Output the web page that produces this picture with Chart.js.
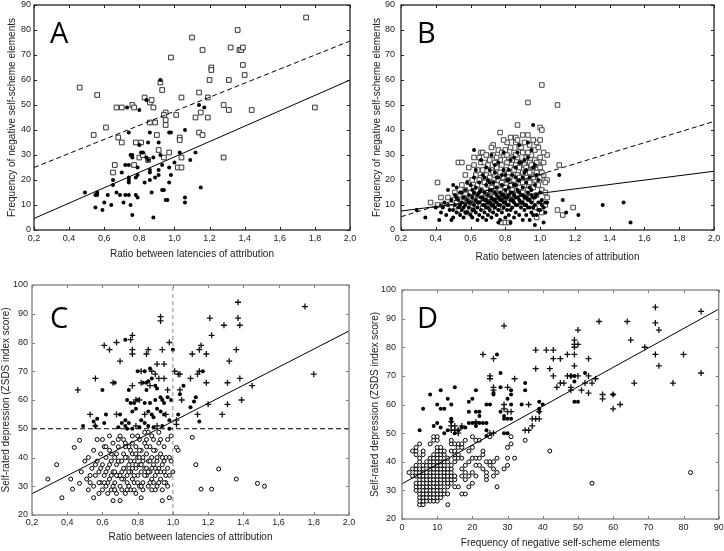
<!DOCTYPE html>
<html><head><meta charset="utf-8">
<script src="https://cdn.jsdelivr.net/npm/chart.js@4.4.1/dist/chart.umd.min.js"></script>
<style>
html,body{margin:0;padding:0;background:#fff;}
body{width:724px;height:551px;position:relative;overflow:hidden;}
canvas{position:absolute;}
</style></head><body>
<canvas id="cA" width="362" height="265" style="left:0;top:0"></canvas>
<canvas id="cB" width="362" height="265" style="left:362px;top:0"></canvas>
<canvas id="cC" width="362" height="286" style="left:0;top:265px"></canvas>
<canvas id="cD" width="362" height="286" style="left:362px;top:265px"></canvas>
<script>
// ---------- Panel A ----------
const aSquares = [[1.75,85],[1.36,80],[1.10,77],[1.16,72],[1.32,73],[1.37,72],[1.38,72],[1.39,73],[0.98,69],[1.39,66],[1.21,65],[1.21,64],[1.40,62],[1.20,60],[1.31,60],[0.92,59],[0.93,56],[1.14,55],[0.46,57],[0.56,54],[1.04,53],[1.19,53],[0.83,53],[0.86,51],[0.87,52],[0.67,49],[0.70,49],[0.76,50],[0.77,49],[0.88,49],[1.28,50],[1.31,48],[1.44,48],[1.80,49],[0.95,47],[0.94,46],[1.01,46],[1.15,47],[1.12,45],[1.19,45],[0.95,44],[0.95,42],[0.86,43],[0.89,43],[0.61,41],[0.54,38],[0.90,38],[1.14,39],[1.16,38],[0.68,37],[0.70,35],[0.78,35],[0.81,35],[1.03,37],[1.03,36],[0.91,32],[0.97,31],[0.80,29],[0.82,30],[0.94,29],[1.04,29],[0.85,28],[1.28,29],[0.66,26],[0.77,26],[1.02,25],[1.04,25],[0.65,23]];
const aDots = [[0.92,60],[0.84,52],[0.73,49],[0.80,48],[1.14,50],[1.17,49],[0.98,39],[0.97,39],[0.86,39],[0.74,39],[1.06,40],[0.80,34],[0.85,35],[0.91,35],[0.81,31],[0.82,31],[0.76,30],[0.75,30],[0.76,29],[0.92,30],[1.03,31],[1.12,31],[0.84,29],[0.85,28],[0.88,29],[0.72,26],[0.74,26],[0.79,25],[0.93,26],[1.00,27],[1.09,28],[0.97,25],[0.70,23],[0.74,21],[0.78,21],[0.83,19],[0.86,23],[0.86,24],[0.91,24],[0.91,22],[0.89,21],[0.98,22],[0.65,20],[0.65,18],[0.74,20],[0.74,19],[0.79,22],[0.86,20],[0.97,19],[0.49,15],[0.55,14],[0.56,14],[0.56,15],[0.62,14],[0.67,15],[0.69,14],[0.72,14],[0.74,14],[0.78,14],[0.79,13],[0.87,15],[0.93,16],[0.94,16],[0.95,12],[0.96,12],[1.15,17],[0.60,11],[0.71,11],[1.06,13],[1.06,11],[0.55,9],[0.59,8],[0.64,10],[0.75,10],[0.76,6],[0.88,5]];
const aSolidLine = [[0.2,4.6],[2.0,60]];
const aDashedLine = [[0.2,25],[2.0,75.6]];

// ---------- Panel B ----------
const bSquares = [[1.01,58],[0.93,51],[1.10,50],[0.87,42],[1.00,41],[1.01,40],[0.77,39],[0.90,38],[0.93,38],[0.86,37],[0.73,34],[0.81,35],[0.98,35],[1.00,36],[0.66,31],[0.53,27],[0.55,27],[0.62,26],[0.41,19],[1.11,26],[0.37,11],[0.43,13],[0.44,10],[0.41,10],[1.10,8],[1.13,6],[1.19,9],[0.78,3],[0.80,3],[0.82,3],[1.04,30],[1.02,31],[1.02,20],[1.04,20],[0.98,5],
[0.47,13],[0.49,9],[0.50,12],[0.51,15],[0.52,11],[0.53,8],[0.54,14],[0.55,10],[0.56,13],[0.57,16],[0.58,7],[0.58,12],[0.59,19],[0.60,11],[0.60,15],[0.61,20],[0.61,9],[0.62,13],[0.62,17],[0.63,22],[0.63,10],[0.64,14],[0.64,18],[0.65,29],[0.65,12],[0.66,27],[0.66,16],[0.66,21],[0.67,9],[0.67,24],[0.68,27],[0.68,13],[0.68,19],[0.69,15],[0.69,22],[0.70,26],[0.70,11],[0.70,18],[0.71,14],[0.71,28],[0.71,21],[0.72,8],[0.72,17],[0.72,24],[0.73,12],[0.73,19],[0.73,30],[0.74,15],[0.74,22],[0.74,27],[0.75,10],[0.75,18],[0.75,25],[0.76,13],[0.76,20],[0.76,32],[0.77,16],[0.77,23],[0.77,28],[0.78,9],[0.78,19],[0.78,26],[0.79,14],[0.79,21],[0.79,30],[0.80,17],[0.80,24],[0.80,32],[0.81,11],[0.81,20],[0.81,27],[0.82,15],[0.82,23],[0.82,29],[0.83,18],[0.83,25],[0.83,33],[0.84,12],[0.84,21],[0.84,28],[0.85,16],[0.85,24],[0.85,31],[0.86,19],[0.86,26],[0.86,35],[0.87,14],[0.87,22],[0.87,29],[0.88,17],[0.88,25],[0.88,33],[0.89,11],[0.89,20],[0.89,27],[0.90,15],[0.90,23],[0.90,31],[0.91,18],[0.91,26],[0.92,13],[0.92,21],[0.92,29],[0.93,16],[0.93,24],[0.94,19],[0.94,27],[0.94,34],[0.95,12],[0.95,22],[0.95,30],[0.96,17],[0.96,25],[0.97,9],[0.97,20],[0.97,28],[0.98,14],[0.98,23],[0.99,18],[0.99,26],[1.00,21],[1.00,29],[1.01,7],[1.01,16],[1.02,22],[1.03,10],[1.03,19],[1.04,13],
[0.55,18],[0.57,22],[0.59,25],[0.60,8],[0.62,29],[0.64,24],[0.65,20],[0.67,31],[0.69,30],[0.70,14],[0.72,33],[0.73,23],[0.75,29],[0.76,9],[0.78,31],[0.79,36],[0.80,13],[0.81,30],[0.83,37],[0.84,16],[0.85,20],[0.86,30],[0.87,36],[0.88,21],[0.89,33],[0.90,19],[0.91,35],[0.92,25],[0.93,31],[0.94,23],[0.95,26],[0.96,36],[0.97,32],[0.98,27],[0.99,33],[1.00,25],[1.01,23],[1.02,27],[1.03,15],[0.96,21]];
const bDots = [[0.29,8],[0.34,5],[0.42,4],[0.49,4],[1.52,3],[1.48,11],[1.36,10],[1.22,6],[1.15,7],[1.13,12],[1.11,22],[0.96,42],[0.62,32],[0.97,2],[1.02,3],[1.03,11],[1.00,11],
[0.40,9],[0.43,7],[0.45,11],[0.46,6],[0.47,16],[0.48,8],[0.49,12],[0.50,18],[0.50,5],[0.51,10],[0.51,14],[0.52,7],[0.52,17],[0.53,9],[0.53,12],[0.54,6],[0.54,15],[0.55,11],[0.55,8],[0.56,13],[0.56,5],[0.57,10],[0.57,16],[0.58,7],[0.58,12],[0.59,9],[0.59,14],[0.60,6],[0.60,11],[0.60,18],[0.61,8],[0.61,13],[0.61,5],[0.62,10],[0.62,15],[0.62,21],[0.63,7],[0.63,12],[0.63,17],[0.64,9],[0.64,14],[0.64,4],[0.65,11],[0.65,6],[0.65,19],[0.66,8],[0.66,13],[0.66,16],[0.67,10],[0.67,5],[0.67,22],[0.68,12],[0.68,7],[0.68,15],[0.69,9],[0.69,18],[0.69,4],[0.70,11],[0.70,14],[0.70,6],[0.71,8],[0.71,16],[0.71,24],[0.72,10],[0.72,13],[0.72,5],[0.73,12],[0.73,19],[0.73,7],[0.74,9],[0.74,15],[0.74,26],[0.75,11],[0.75,6],[0.75,17],[0.76,8],[0.76,13],[0.76,21],[0.77,10],[0.77,4],[0.77,15],[0.78,12],[0.78,7],[0.78,18],[0.79,9],[0.79,14],[0.79,24],[0.80,11],[0.80,5],[0.80,16],[0.81,8],[0.81,13],[0.81,20],[0.82,10],[0.82,6],[0.82,17],[0.83,12],[0.83,28],[0.83,8],[0.84,15],[0.84,9],[0.84,22],[0.85,11],[0.85,5],[0.85,18],[0.86,13],[0.86,7],[0.86,25],[0.87,10],[0.87,16],[0.87,31],[0.88,12],[0.88,6],[0.88,20],[0.89,9],[0.89,14],[0.89,27],[0.90,11],[0.90,4],[0.90,17],[0.91,8],[0.91,13],[0.91,23],[0.92,10],[0.92,6],[0.92,19],[0.93,12],[0.93,15],[0.93,35],[0.94,9],[0.94,21],[0.94,4],[0.95,11],[0.95,16],[0.95,7],[0.96,13],[0.96,25],[0.96,9],[0.97,10],[0.97,18],[0.98,6],[0.98,14],[0.99,11],[0.99,20],[1.00,8],[1.00,15],[1.01,12],[1.02,9],[1.03,7],[1.04,11],[0.55,15],[0.58,19],[0.63,24],[0.66,28],[0.70,20],[0.72,30],[0.76,27],[0.79,31],[0.82,24],[0.85,29],[0.88,34],[0.91,28],[0.95,32],[0.98,22],[0.68,21],[0.74,23],[0.80,22],[0.86,21],[0.92,24],[0.97,26],
[0.44,9],[0.47,10],[0.50,8],[0.52,13],[0.54,10],[0.56,9],[0.57,7],[0.59,11],[0.61,16],[0.62,8],[0.64,11],[0.65,15],[0.67,13],[0.68,10],[0.69,12],[0.70,9],[0.71,11],[0.72,16],[0.73,10],[0.74,12],[0.75,14],[0.76,10],[0.77,12],[0.78,14],[0.79,11],[0.80,13],[0.81,10],[0.82,14],[0.83,15],[0.84,12],[0.85,14],[0.86,10],[0.87,13],[0.88,15],[0.89,11],[0.90,14],[0.91,10],[0.92,13],[0.93,9],[0.94,12],[0.95,14],[0.96,6],[0.97,13],[0.99,8],[1.01,10],[0.78,22],[0.82,20],[0.86,18],[0.90,21],[0.94,17],[0.71,19],[0.75,21],[0.83,3],[0.76,3],[0.69,25],[0.88,27],[0.93,29]];
const bSolidLine = [[0.2,7.6],[2.0,23.5]];
const bDashedLine = [[0.2,5.3],[2.0,43.4]];

// ---------- Panel C ----------
const cPlus = [[1.37,94],[1.75,92.5],[0.93,89],[0.93,87.5],[1.21,88.5],[1.37,88.5],[1.29,86],[1.38,86],[0.77,82.5],[1.22,82.5],[0.76,81],[0.68,80],[0.98,80],[0.61,79],[1.16,79],[0.64,77.5],[0.77,77.5],[0.86,77.5],[0.94,77.5],[1.15,77.5],[1.36,77.5],[0.77,76],[0.85,76],[1.11,76],[1.19,76],[0.70,73.5],[0.91,72.5],[0.95,72.5],[1.32,73.5],[0.88,70],[0.90,69],[0.82,70],[1.01,70],[1.03,69],[1.04,69],[1.10,67.5],[1.14,69],[1.15,70],[1.38,67.5],[1.80,69],[0.56,67.5],[0.92,67.5],[0.95,67.5],[0.87,65],[0.82,66],[0.77,65],[0.66,66],[1.19,66],[1.31,66],[1.45,65],[0.46,63.5],[0.97,63.5],[1.04,63.5],[1.05,60],[1.39,60],[0.79,60],[0.81,60],[1.20,58.5],[1.31,58.5],[0.53,55],[0.68,55],[0.84,55],[0.96,55],[1.14,55],[1.28,55],[1.02,51.5],[1.02,53],[0.56,51],[0.91,51],[0.79,51]];
const cDots = [[0.73,81],[1.00,77.5],[0.87,71],[0.84,70],[0.80,70],[1.17,70],[0.88,67.5],[0.86,66.5],[0.85,66],[0.83,66],[0.67,66],[0.60,63.5],[0.75,63.5],[0.85,63.5],[0.90,65],[0.91,64],[1.06,65],[1.04,62],[0.93,61],[0.97,61],[1.13,61],[0.74,60],[0.76,59],[0.78,59],[0.80,60],[0.84,59],[0.87,59],[0.90,60],[0.94,60],[0.95,59],[0.99,60],[1.12,59.5],[1.10,57.5],[0.62,55],[0.70,55],[0.73,53],[0.77,56],[0.79,57],[0.86,56],[0.88,55],[0.91,57],[0.93,56],[0.95,55],[0.57,53.5],[0.55,52.5],[0.61,52],[0.71,52],[0.73,51],[0.75,52],[0.82,53],[0.84,52],[0.89,54],[0.98,53],[1.03,55],[1.15,52.5],[0.49,51],[0.56,51],[0.69,50.5],[0.74,50],[0.77,50],[0.81,50.5],[0.86,51],[0.89,50.5],[0.94,51],[0.98,50]];
const cOpen = [[0.29,32.5],[0.34,37.5],[0.37,26],[0.42,32.5],[0.43,29],[0.44,43.5],[0.47,46],[0.47,31],[0.48,35],[1.11,47],[1.13,37.5],[1.16,29],[1.22,29],[1.26,36],[1.36,32.5],[1.48,31],[1.52,30],[0.94,25],[0.98,26],[0.66,25],[0.70,25],[0.82,26],[0.55,26],[1.00,35],[1.02,43.5],[1.03,42.5],[0.99,47.5],[0.98,40],
[0.50,38.75],[0.51,32.5],[0.52,28.75],[0.52,40],[0.53,33.75],[0.54,36.25],[0.55,42.5],[0.55,30],[0.56,33.75],[0.57,46.25],[0.57,38.75],[0.58,27.5],[0.58,35],[0.59,31.25],[0.59,41.25],[0.60,28.75],[0.60,37.5],[0.61,33.75],[0.61,43.75],[0.62,30],[0.62,40],[0.63,36.25],[0.63,27.5],[0.64,32.5],[0.64,42.5],[0.65,38.75],[0.65,28.75],[0.66,35],[0.66,45],[0.67,31.25],[0.67,40],[0.68,37.5],[0.68,27.5],[0.69,33.75],[0.69,43.75],[0.70,30],[0.70,38.75],[0.70,47.5],[0.71,35],[0.71,28.75],[0.72,41.25],[0.72,32.5],[0.73,36.25],[0.73,45],[0.73,27.5],[0.74,33.75],[0.74,40],[0.75,30],[0.75,37.5],[0.75,43.75],[0.76,35],[0.76,28.75],[0.77,41.25],[0.77,32.5],[0.77,47.5],[0.78,38.75],[0.78,31.25],[0.79,36.25],[0.79,43.75],[0.79,27.5],[0.80,33.75],[0.80,40],[0.81,30],[0.81,37.5],[0.81,46.25],[0.82,35],[0.82,42.5],[0.83,31.25],[0.83,38.75],[0.83,28.75],[0.84,36.25],[0.84,45],[0.85,33.75],[0.85,41.25],[0.86,30],[0.86,38.75],[0.86,48.75],[0.87,35],[0.87,43.75],[0.88,32.5],[0.88,40],[0.88,28.75],[0.89,37.5],[0.89,46.25],[0.90,33.75],[0.90,42.5],[0.91,30],[0.91,38.75],[0.92,36.25],[0.92,45],[0.93,32.5],[0.93,41.25],[0.94,28.75],[0.94,37.5],[0.95,35],[0.95,43.75],[0.96,31.25],[0.96,40],[0.97,36.25],[0.97,46.25],[0.98,33.75],[0.99,38.75],[0.60,46.25],[0.64,47.5],[0.68,41.25],[0.72,46.25],[0.76,42.5],[0.80,47.5],[0.84,48.75],[0.88,47.5],[0.92,48.75],[0.63,31.25],[0.67,35],[0.71,32.5],[0.74,28.75],[0.78,33.75],[0.82,30],[0.85,36.25],[0.89,31.25],[0.93,35],[0.96,33.75],[0.69,38.75],[0.73,40],[0.77,36.25],[0.81,40],[0.85,43.75],[0.90,36.25],[0.66,30],[0.70,33.75],[0.75,35],[0.79,37.5],[0.83,40],[0.87,38.75],[0.91,40],[0.95,38.75],[0.62,35],[0.58,31.25],
[0.53,31.25],[0.56,37.5],[0.59,36.25],[0.61,31.25],[0.64,37.5],[0.65,33.75],[0.67,28.75],[0.68,33.75],[0.71,38.75],[0.72,36.25],[0.74,31.25],[0.76,38.75],[0.78,28.75],[0.79,41.25],[0.80,31.25],[0.82,37.5],[0.84,33.75],[0.86,35],[0.87,31.25],[0.88,36.25],[0.90,28.75],[0.91,35],[0.92,31.25],[0.94,40],[0.95,31.25],[0.97,30],[0.73,43.75],[0.77,45],[0.81,42.5],[0.85,46.25],[0.89,42.5],[0.93,46.25],[0.69,46.25],[0.65,41.25],[0.62,43.75]];
const cFitLine = [[0.2,27.4],[2.0,84]];
const cCutY = [[0.2,50],[2.0,50]];
const cCutX = [[1.0,20],[1.0,100]];

// ---------- Panel D ----------
const dPlus = [[72,94],[85,92.5],[29,87.5],[72,88.5],[56,89],[64,89],[73,86],[50,86],[65,82.5],[49,82.5],[49,81],[49,80],[50,81],[69,80],[23,77.5],[26,76],[38,79],[41,79],[43,79],[43,76],[45,76],[47,77.5],[49,77.5],[53,76],[72,77.5],[80,77.5],[38,72.5],[42,72.5],[49,73.5],[73,73.5],[85,71],[25,70],[25,69],[43,70],[45,67.5],[46,67.5],[47,70],[48,70],[50,70],[52,67.5],[53,70],[54,67.5],[55,69],[66,67.5],[77,67.5],[32,69],[44,66],[48,65],[48,66],[51,65],[53,64],[57,63.5],[57,62],[60,63.5],[60,58.5],[62,60],[30,66],[26,65],[26,66],[29,60],[29,58.5],[30,57.5],[31,57.5],[36,60],[38,55],[39,55],[37,55],[37,52.5],[35,51],[36,51],[39,57.5],[14,54],[14,52.5],[14,51],[15,52.5],[15,51],[17,52.5],[16,51],[16,50],[21,54],[25,50],[26,50]];
const dDots = [[27,77.5],[28,71],[26,64],[26,63.5],[24,60],[20,62],[19,61],[21,65],[15,66],[11,65],[8,63.5],[6,58.5],[5,51],[9,52.5],[10,60],[10,53.5],[11,52],[11,58.5],[12,58.5],[13,62],[14,60],[12,50],[13,51],[14,55],[14,54],[15,50],[16,51],[17,52],[18,52],[19,57.5],[19,53.5],[20,53.5],[21,53.5],[21,57.5],[22,57.5],[22,56],[22,53.5],[23,53.5],[24,53.5],[24,51],[21,52.5],[25,60],[28,57.5],[28,66],[29,55],[29,56],[30,55],[30,62],[30,50],[31,65],[31,63.5],[31,60],[31,55],[34,60],[35,67.5],[35,65],[39,61],[39,58.5],[39,57.5],[40,60],[48,70],[49,70],[49,68],[50,61],[49,61],[52,71],[60,63.5],[29,50],[24,49]];
const dOpen = [[2,36.25],[3,35],[3,37.5],[3,43.75],
[4,30],[4,31.25],[4,32.5],[4,35],[4,36.25],[4,37.5],[4,38.75],[4,42.5],[4,43.75],[4,45],
[5,25],[5,26.25],[5,27.5],[5,28.75],[5,30],[5,31.25],[5,32.5],[5,33.75],[5,35],[5,36.25],[5,37.5],[5,40],[5,41.25],[5,46.25],
[6,25],[6,26.25],[6,27.5],[6,28.75],[6,30],[6,31.25],[6,32.5],[6,33.75],[6,35],[6,36.25],[6,37.5],[6,38.75],[6,42.5],[6,43.75],
[7,26.25],[7,27.5],[7,28.75],[7,30],[7,31.25],[7,32.5],[7,33.75],[7,35],[7,36.25],[7,38.75],[7,40],
[8,26.25],[8,27.5],[8,28.75],[8,30],[8,31.25],[8,32.5],[8,33.75],[8,35],[8,36.25],[8,37.5],[8,38.75],[8,40],[8,41.25],[8,46.25],
[9,26.25],[9,27.5],[9,28.75],[9,30],[9,31.25],[9,32.5],[9,33.75],[9,35],[9,36.25],[9,37.5],[9,38.75],[9,40],[9,41.25],[9,42.5],[9,47.5],[9,48.75],
[10,26.25],[10,27.5],[10,28.75],[10,30],[10,31.25],[10,32.5],[10,33.75],[10,35],[10,36.25],[10,37.5],[10,38.75],[10,40],[10,41.25],[10,42.5],[10,43.75],[10,45],[10,47.5],[10,48.75],
[11,27.5],[11,28.75],[11,30],[11,31.25],[11,32.5],[11,33.75],[11,35],[11,36.25],[11,37.5],[11,38.75],[11,40],[11,41.25],[11,42.5],[11,43.75],[11,45],
[12,28.75],[12,30],[12,32.5],[12,33.75],[12,35],[12,36.25],[12,37.5],[12,38.75],[12,40],[12,42.5],[12,43.75],
[13,25],[13,28.75],[13,31.25],[13,32.5],[13,33.75],[13,35],[13,36.25],[13,37.5],[13,40],[13,41.25],
[14,32.5],[14,33.75],[14,35],[14,36.25],[14,37.5],[14,38.75],[14,43.75],[14,46.25],[14,47.5],
[15,31.25],[15,33.75],[15,35],[15,40],[15,41.25],[15,42.5],[15,43.75],[15,46.25],
[16,31.25],[16,41.25],[16,42.5],[16,45],[16,46.25],
[17,28.75],[17,35],[17,37.5],[17,41.25],[17,45],[17,46.25],
[18,28.75],[18,33.75],[18,36.25],[18,38.75],[18,47.5],
[19,31.25],[19,35],[19,40],[19,43.75],
[20,32.5],[20,36.25],[20,41.25],[20,45],[20,48.75],
[21,35],[21,38.75],[21,41.25],[21,47.5],
[22,38.75],[22,41.25],[22,47.5],
[23,37.5],[23,42.5],[23,43.75],
[24,33.75],[24,35],[24,36.25],[24,40],
[25,38.75],[25,40],[25,48.75],
[26,35],[26,37.5],[26,40],
[27,31.25],[27,36.25],[27,41.25],
[29,37.5],[30,38.75],[30,41.25],[30,45],[31,46.25],[31,48.75],[32,41.25],[35,47.5],[42,43.75],[54,32.5],[82,36.25]];
const dFitLine = [[0,32.3],[90,93.3]];

// ---------- axis labels ----------
const ratioTitle = 'Ratio between latencies of attribution';
const freqTitle = 'Frequency of negative self-scheme elements';
const zsdsTitle = 'Self-rated depression (ZSDS index score)';
const panelLetters = ['A','B','C','D'];

// ---------- rendering ----------
const FONT = '"Liberation Sans", Arial, sans-serif';
const pts = arr => arr.map(([x,y]) => ({x, y}));

const frameTicks = {
  id: 'frameTicks',
  afterDraw(chart, args, o) {
    const {ctx, chartArea: a, scales} = chart;
    ctx.save();
    ctx.strokeStyle = o.color;
    ctx.lineWidth = 1;
    const L = 3;
    scales.x.ticks.forEach(t => {
      const p = Math.round(scales.x.getPixelForValue(t.value)) + 0.5;
      ctx.beginPath();
      ctx.moveTo(p, a.bottom); ctx.lineTo(p, a.bottom - L);
      ctx.moveTo(p, a.top); ctx.lineTo(p, a.top + L);
      ctx.stroke();
    });
    scales.y.ticks.forEach(t => {
      const p = Math.round(scales.y.getPixelForValue(t.value)) + 0.5;
      ctx.beginPath();
      ctx.moveTo(a.left, p); ctx.lineTo(a.left + L, p);
      ctx.moveTo(a.right, p); ctx.lineTo(a.right - L, p);
      ctx.stroke();
    });
    ctx.lineWidth = o.width;
    ctx.strokeRect(a.left, a.top, a.right - a.left, a.bottom - a.top);
    ctx.fillStyle = '#000';
    ctx.font = '29px "Open Sans", "DejaVu Sans", sans-serif';
    ctx.textBaseline = 'alphabetic';
    ctx.fillText(o.letter, o.lx, o.ly);
    ctx.restore();
  }
};

function scatterSet(data, style, r, fill, stroke, bw) {
  return {type: 'scatter', data: pts(data), pointStyle: style, pointRadius: r,
    backgroundColor: fill, borderColor: stroke, borderWidth: bw, showLine: false};
}
function lineSet(data, color, dash) {
  return {type: 'scatter', data: pts(data), showLine: true, pointRadius: 0,
    borderColor: color, borderWidth: 1, borderDash: dash, fill: false};
}

const commaFmt = v => Number(v).toFixed(1).replace('.', ',');
const intFmt = v => String(Math.round(v));

function makePanel(id, p) {
  new Chart(document.getElementById(id), {
    type: 'scatter',
    data: {datasets: p.datasets},
    plugins: [frameTicks],
    options: {
      responsive: false, animation: false, events: [],
      layout: {padding: {left: 0, top: p.top, right: p.right, bottom: 0}},
      plugins: {legend: {display: false}, tooltip: {enabled: false},
        frameTicks: {color: p.frame, width: 1.3, letter: p.letter, lx: p.lx, ly: p.ly}},
      scales: {
        x: {type: 'linear', min: p.xmin, max: p.xmax,
          grid: {display: false, drawTicks: false}, border: {display: false},
          ticks: {stepSize: p.xstep, callback: p.xfmt, padding: p.xtpad, autoSkip: false, maxRotation: 0,
            color: '#222', font: {family: FONT, size: 9}},
          title: {display: true, text: p.xtitle, color: '#222', font: {family: FONT, size: 10},
            padding: {top: 0, bottom: p.xtitlePad}},
          afterFit: s => { s.height = p.xh; s.paddingLeft = 0; s.paddingRight = 0; }
        },
        y: {type: 'linear', min: p.ymin, max: p.ymax,
          grid: {display: false, drawTicks: false}, border: {display: false},
          ticks: {stepSize: 10, callback: intFmt, padding: p.ytpad, autoSkip: false,
            color: '#222', font: {family: FONT, size: 9}},
          title: {display: true, text: p.ytitle, color: '#222', font: {family: FONT, size: 10},
            padding: {top: p.ytitlePad, bottom: 0}},
          afterFit: s => { s.width = p.yw; s.paddingTop = 0; s.paddingBottom = 0; }
        }
      }
    }
  });
}

makePanel('cA', {
  datasets: [
    lineSet(aSolidLine, '#000', []),
    lineSet(aDashedLine, '#000', [5, 3]),
    scatterSet(aDots, 'circle', 2, '#000', '#000', 0),
    scatterSet(aSquares, 'rect', 3.3, '#fff', '#333', 1)
  ],
  top: 4, right: 12, xh: 35, yw: 34, frame: '#222',
  xmin: 0.2, xmax: 2.0, xstep: 0.2, xfmt: commaFmt, ymin: 0, ymax: 90,
  xtitle: ratioTitle, ytitle: freqTitle, xtpad: 3, ytpad: 3, xtitlePad: 5, ytitlePad: 6,
  letter: panelLetters[0], lx: 50, ly: 43
});
makePanel('cB', {
  datasets: [
    lineSet(bSolidLine, '#000', []),
    lineSet(bDashedLine, '#000', [5, 3]),
    scatterSet(bDots, 'circle', 2, '#000', '#000', 0),
    scatterSet(bSquares, 'rect', 3.2, '#fff', '#444', 1)
  ],
  top: 4, right: 10, xh: 35, yw: 39, frame: '#222',
  xmin: 0.2, xmax: 2.0, xstep: 0.2, xfmt: commaFmt, ymin: 0, ymax: 90,
  xtitle: ratioTitle, ytitle: freqTitle, xtpad: 3, ytpad: 6, xtitlePad: 2, ytitlePad: 9,
  letter: panelLetters[1], lx: 55, ly: 43
});
makePanel('cC', {
  datasets: [
    lineSet(cFitLine, '#000', []),
    lineSet(cCutY, '#000', [5, 3]),
    lineSet(cCutX, '#888', [4, 3]),
    scatterSet(cPlus, 'cross', 3, '#000', '#111', 1.3),
    scatterSet(cDots, 'circle', 2, '#000', '#000', 0),
    scatterSet(cOpen, 'circle', 2, '#fff', '#000', 1)
  ],
  top: 20, right: 13, xh: 36, yw: 32, frame: '#808080',
  xmin: 0.2, xmax: 2.0, xstep: 0.2, xfmt: commaFmt, ymin: 20, ymax: 100,
  xtitle: ratioTitle, ytitle: zsdsTitle, xtpad: 2, ytpad: 4, xtitlePad: 8, ytitlePad: 0,
  letter: panelLetters[2], lx: 50, ly: 63
});
makePanel('cD', {
  datasets: [
    lineSet(dFitLine, '#000', []),
    scatterSet(dPlus, 'cross', 3, '#000', '#111', 1.3),
    scatterSet(dDots, 'circle', 2, '#000', '#000', 0),
    scatterSet(dOpen, 'circle', 2, '#fff', '#000', 1)
  ],
  top: 25, right: 5, xh: 32, yw: 40, frame: '#808080',
  xmin: 0, xmax: 90, xstep: 10, xfmt: intFmt, ymin: 20, ymax: 100,
  xtitle: freqTitle, ytitle: zsdsTitle, xtpad: 3, ytpad: 6, xtitlePad: 2, ytitlePad: 7,
  letter: panelLetters[3], lx: 55, ly: 63
});
</script>
</body></html>
